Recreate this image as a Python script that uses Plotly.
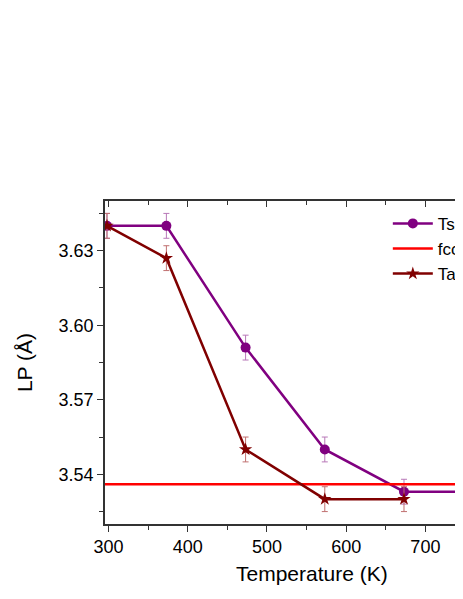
import plotly.graph_objects as go

# data
temperature = [298, 373, 473, 573, 673, 773]
lp_ts = [3.640, 3.640, 3.591, 3.550, 3.533, 3.533]
lp_ts_err = [0.005, 0.005, 0.005, 0.005, 0.005, 0.005]

temperature_ta = [298, 373, 473, 573, 673]
lp_ta = [3.640, 3.627, 3.550, 3.530, 3.530]
lp_ta_err = [0.005, 0.005, 0.005, 0.005, 0.005]

fcc_lp = 3.536

x_range = [295.5, 747.5]
y_range = [3.52, 3.65]
y_ticks = [3.54, 3.57, 3.60, 3.63]
x_ticks = [300, 400, 500, 600, 700]

FONT = "Liberation Sans, Arial, sans-serif"
PURPLE = "#800080"
BROWN = "#800000"
AXIS = "#333333"

fig = go.Figure()

fig.add_trace(go.Scatter(
    x=temperature, y=lp_ts, name="Ts",
    mode="lines+markers",
    line=dict(color=PURPLE, width=2.5),
    marker=dict(symbol="circle", size=10, color=PURPLE),
    error_y=dict(type="data", array=lp_ts_err, color="#b878b8", thickness=1, width=3),
))

fig.add_trace(go.Scatter(
    x=[x_range[0], x_range[1] + 100], y=[fcc_lp, fcc_lp], name="fcc",
    mode="lines",
    line=dict(color="#ff0000", width=2.5),
))

fig.add_trace(go.Scatter(
    x=temperature_ta, y=lp_ta, name="Ta",
    mode="lines+markers",
    line=dict(color=BROWN, width=2.5),
    marker=dict(symbol="star", size=10, color=BROWN),
    error_y=dict(type="data", array=lp_ta_err, color="#c07070", thickness=1, width=3),
))

# nothing drawn, only there so the top axis (inward ticks) gets rendered
fig.add_trace(go.Scatter(
    x=temperature_ta, y=lp_ta, xaxis="x2", mode="none",
    showlegend=False, hoverinfo="skip",
))

# page body has an 8px margin all round, so keep the figure inside the window
fig.update_layout(
    width=455, height=583,
    margin=dict(l=97, r=0, t=193, b=67, autoexpand=False),
    paper_bgcolor="white", plot_bgcolor="white",
    font=dict(family=FONT, size=18, color="black"),
    showlegend=True,
    legend=dict(
        x=0.79, y=0.985, xanchor="left", yanchor="top",
        bgcolor="rgba(0,0,0,0)", font=dict(size=17, family=FONT),
        tracegroupgap=0, itemwidth=40,
    ),
    xaxis=dict(
        range=x_range, tickvals=x_ticks,
        showline=True, linecolor=AXIS, linewidth=1.5,
        ticks="outside", ticklen=6, tickwidth=1, tickcolor=AXIS,
        minor=dict(dtick=50, tick0=300, ticks="outside", ticklen=4, tickcolor=AXIS),
        showgrid=False, zeroline=False,
        tickfont=dict(size=18),
    ),
    xaxis2=dict(
        overlaying="x", side="top", range=x_range,
        tickvals=x_ticks, showticklabels=False,
        showline=True, linecolor=AXIS, linewidth=1.5,
        ticks="inside", ticklen=6, tickwidth=1, tickcolor=AXIS,
        minor=dict(dtick=50, tick0=300, ticks="inside", ticklen=4, tickcolor=AXIS),
        showgrid=False, zeroline=False,
    ),
    yaxis=dict(
        range=y_range, tickvals=y_ticks, tickformat=".2f",
        showline=True, linecolor=AXIS, linewidth=1.5,
        ticks="outside", ticklen=6, tickwidth=1, tickcolor=AXIS,
        minor=dict(dtick=0.03, tick0=3.525, ticks="outside", ticklen=4, tickcolor=AXIS),
        showgrid=False, zeroline=False,
        tickfont=dict(size=18),
        title=dict(text="LP (Å)", font=dict(size=21), standoff=20),
    ),
)

# x title as annotation (the real plot area runs past the right edge)
fig.add_annotation(
    text="Temperature (K)", xref="paper", yref="paper",
    x=0.578, y=-0.152, xanchor="center", yanchor="middle",
    showarrow=False, font=dict(size=21, family=FONT),
)

fig.write_html("out.html")
